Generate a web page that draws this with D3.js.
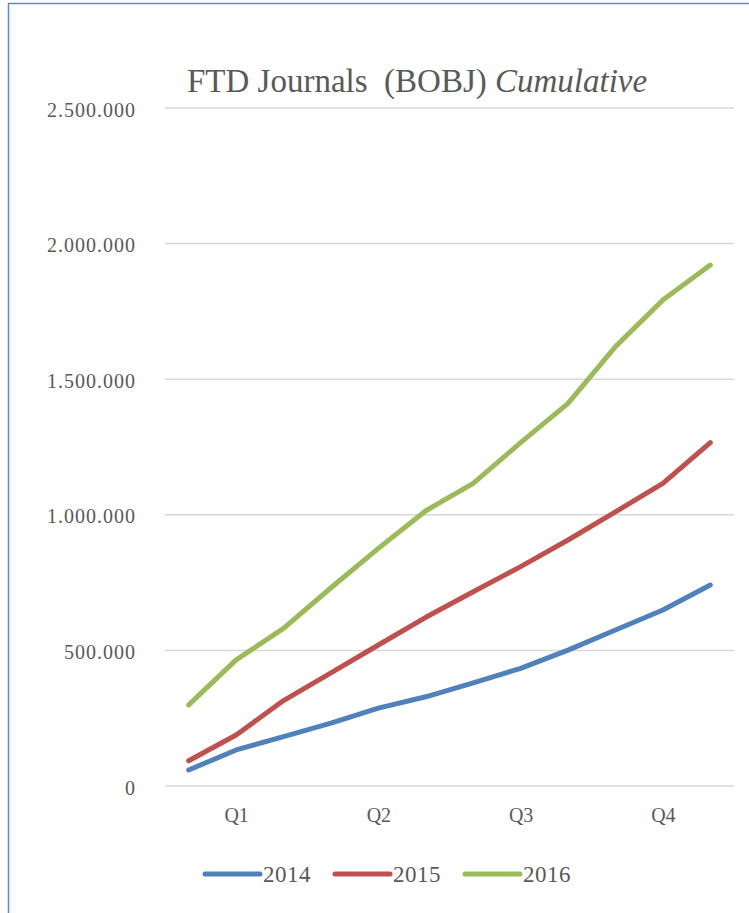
<!DOCTYPE html>
<html>
<head>
<meta charset="utf-8">
<script src="https://cdn.jsdelivr.net/npm/d3@7"></script>
<style>
  html, body { margin: 0; padding: 0; background: #fff; }
  svg { display: block; }
  text { font-family: "Liberation Serif", "DejaVu Serif", serif; fill: #595959; }
</style>
</head>
<body>
<svg id="chart" width="749" height="913"></svg>
<script>
// Monthly categories; the axis labels only the middle month of each quarter
const months = ["Jan", "Feb", "Mar", "Apr", "May", "Jun", "Jul", "Aug", "Sep", "Oct", "Nov", "Dec"];
const quarterTicks = { Feb: "Q1", May: "Q2", Aug: "Q3", Nov: "Q4" };

// Cumulative journal counts per year
const series2014 = [59000, 133000, 182000, 232000, 287000, 329000, 380000, 434000, 501000, 575000, 649000, 741000];
const series2015 = [93000, 188000, 315000, 417000, 520000, 622000, 716000, 809000, 907000, 1011000, 1116000, 1266000];
const series2016 = [299000, 465000, 581000, 731000, 876000, 1015000, 1116000, 1266000, 1411000, 1620000, 1792000, 1921000];

const seriesNames = ["2014", "2015", "2016"];
const seriesColors = ["#4f81bd", "#c0504d", "#9bbb59"];
const yTicks = [0, 500000, 1000000, 1500000, 2000000, 2500000];

const svg = d3.select("#chart");

// Chart frame
svg.append("rect")
  .attr("x", 8.5).attr("y", 3.5)
  .attr("width", 800).attr("height", 1000)
  .attr("fill", "none")
  .attr("stroke", "#5b8cd1")
  .attr("stroke-width", 1.5);

const plot = { left: 165, right: 734, top: 108, bottom: 786 };

const x = d3.scalePoint().domain(months).range([plot.left, plot.right]).padding(0.5);
const y = d3.scaleLinear().domain([0, 2500000]).range([plot.bottom, plot.top]);

const locale = d3.formatLocale({ decimal: ",", thousands: ".", grouping: [3], currency: ["", ""] });
const fmt = locale.format(",.0f");

// Horizontal gridlines
svg.append("g")
  .selectAll("line")
  .data(yTicks)
  .join("line")
  .attr("x1", plot.left).attr("x2", plot.right)
  .attr("y1", d => y(d)).attr("y2", d => y(d))
  .attr("stroke", "#d9d9d9")
  .attr("stroke-width", 1.5);

// Value axis
const yAxis = svg.append("g")
  .attr("transform", `translate(${plot.left},0)`)
  .call(d3.axisLeft(y).tickValues(yTicks).tickFormat(fmt).tickSize(0).tickPadding(29));
yAxis.select(".domain").remove();
yAxis.selectAll("text")
  .style("font-size", "20px")
  .style("letter-spacing", "1px")
  .attr("dy", "0.4em");

// Category axis
const xAxis = svg.append("g")
  .attr("transform", `translate(0,${plot.bottom})`)
  .call(d3.axisBottom(x)
    .tickValues(Object.keys(quarterTicks))
    .tickFormat(d => quarterTicks[d])
    .tickSize(0).tickPadding(22));
xAxis.select(".domain").remove();
xAxis.selectAll("text")
  .style("font-size", "20px");

// Lines
const line = d3.line()
  .x((d, i) => x(months[i]))
  .y(d => y(d));

const allSeries = [series2014, series2015, series2016];
svg.append("g")
  .selectAll("path")
  .data(allSeries)
  .join("path")
  .attr("d", d => line(d))
  .attr("fill", "none")
  .attr("stroke", (d, i) => seriesColors[i])
  .attr("stroke-width", 5)
  .attr("stroke-linecap", "round")
  .attr("stroke-linejoin", "round");

// Title
const title = svg.append("text")
  .attr("x", 187).attr("y", 92)
  .style("font-size", "33px")
  .style("white-space", "pre");
title.append("tspan").text("FTD Journals  (BOBJ) ");
title.append("tspan").style("font-style", "italic").text("Cumulative");

// Legend
const legendX = [205, 335, 465];
const legend = svg.append("g")
  .selectAll("g")
  .data(seriesNames)
  .join("g")
  .attr("transform", (d, i) => `translate(${legendX[i]},874)`);
legend.append("line")
  .attr("x1", 0).attr("x2", 55)
  .attr("stroke", (d, i) => seriesColors[i])
  .attr("stroke-width", 5)
  .attr("stroke-linecap", "round");
legend.append("text")
  .attr("x", 58).attr("y", 0).attr("dy", "0.35em")
  .style("font-size", "23px")
  .style("letter-spacing", "0.5px")
  .text(d => d);
</script>
</body>
</html>
